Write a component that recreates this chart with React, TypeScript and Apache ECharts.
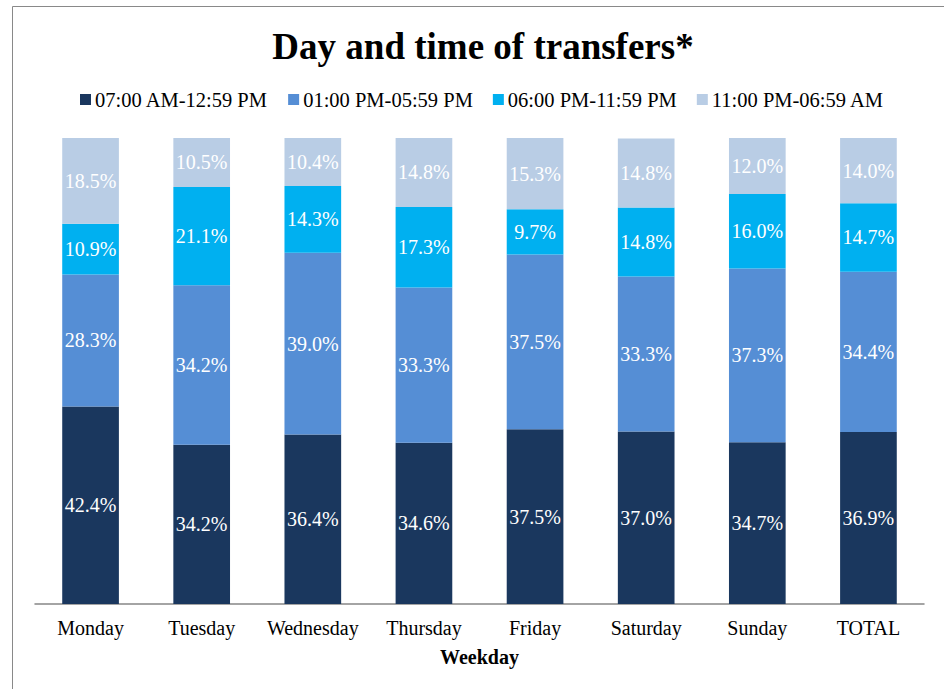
import React, { useEffect, useRef } from "react";
import * as echarts from "echarts";

const categories = ["Monday", "Tuesday", "Wednesday", "Thursday", "Friday", "Saturday", "Sunday", "TOTAL"];
const seriesNames = ["07:00 AM-12:59 PM", "01:00 PM-05:59 PM", "06:00 PM-11:59 PM", "11:00 PM-06:59 AM"];
const morning = [42.4, 34.2, 36.4, 34.6, 37.5, 37.0, 34.7, 36.9];
const afternoon = [28.3, 34.2, 39.0, 33.3, 37.5, 33.3, 37.3, 34.4];
const evening = [10.9, 21.1, 14.3, 17.3, 9.7, 14.8, 16.0, 14.7];
const night = [18.5, 10.5, 10.4, 14.8, 15.3, 14.8, 12.0, 14.0];
const colors = ["#1a375e", "#558ed5", "#00b0f0", "#b9cde5"];

const FONT = "'Liberation Serif', 'Times New Roman', serif";

export default function App() {
  const ref = useRef<HTMLDivElement>(null);
  useEffect(() => {
    if (!ref.current) return;
    const chart = echarts.init(ref.current, undefined, { renderer: "svg" });
    const values = [morning, afternoon, evening, night];
    chart.setOption({
      animation: false,
      backgroundColor: "#ffffff",
      textStyle: { fontFamily: FONT },
      title: {
        text: "Day and time of transfers*",
        left: 478,
        textAlign: "center",
        top: 23,
        textStyle: { fontFamily: FONT, fontSize: 37, fontWeight: "bold", color: "#000" },
      },
      legend: {
        left: 75,
        top: 84,
        itemWidth: 11,
        itemHeight: 11,
        itemGap: 20,
        icon: "rect",
        textStyle: { fontFamily: FONT, fontSize: 20.5, color: "#000", padding: [0, 0, 0, -1] },
        data: seriesNames,
      },
      graphic: [
        {
          type: "rect",
          shape: { x: 12.5, y: 6.5, width: 1000, height: 1000 },
          style: { fill: "none", stroke: "#898989", lineWidth: 1 },
          silent: true,
        },
      ],
      grid: { left: 35, right: 20, top: 138, bottom: 85 },
      xAxis: {
        type: "category",
        data: categories,
        axisTick: { show: false },
        axisLine: { lineStyle: { color: "#868686", width: 1.5 } },
        axisLabel: { fontFamily: FONT, fontSize: 20, color: "#000", margin: 14, interval: 0 },
        name: "Weekday",
        nameLocation: "middle",
        nameGap: 43,
        nameTextStyle: { fontFamily: FONT, fontSize: 20, fontWeight: "bold", color: "#000" },
      },
      yAxis: {
        type: "value",
        min: 0,
        max: 100,
        show: false,
        splitLine: { show: false },
      },
      series: seriesNames.map((name, i) => ({
        name,
        type: "bar",
        stack: "total",
        barWidth: "51%",
        data: values[i],
        itemStyle: { color: colors[i] },
        label: {
          show: true,
          position: "inside",
          formatter: (p: any) => Number(p.value).toFixed(1) + "%",
          fontFamily: FONT,
          fontSize: 20,
          color: "#ffffff",
        },
      })),
    });
    return () => chart.dispose();
  }, []);
  return (
    <div
      ref={ref}
      style={{ position: "absolute", left: 0, top: 0, width: 944, height: 689 }}
    />
  );
}
